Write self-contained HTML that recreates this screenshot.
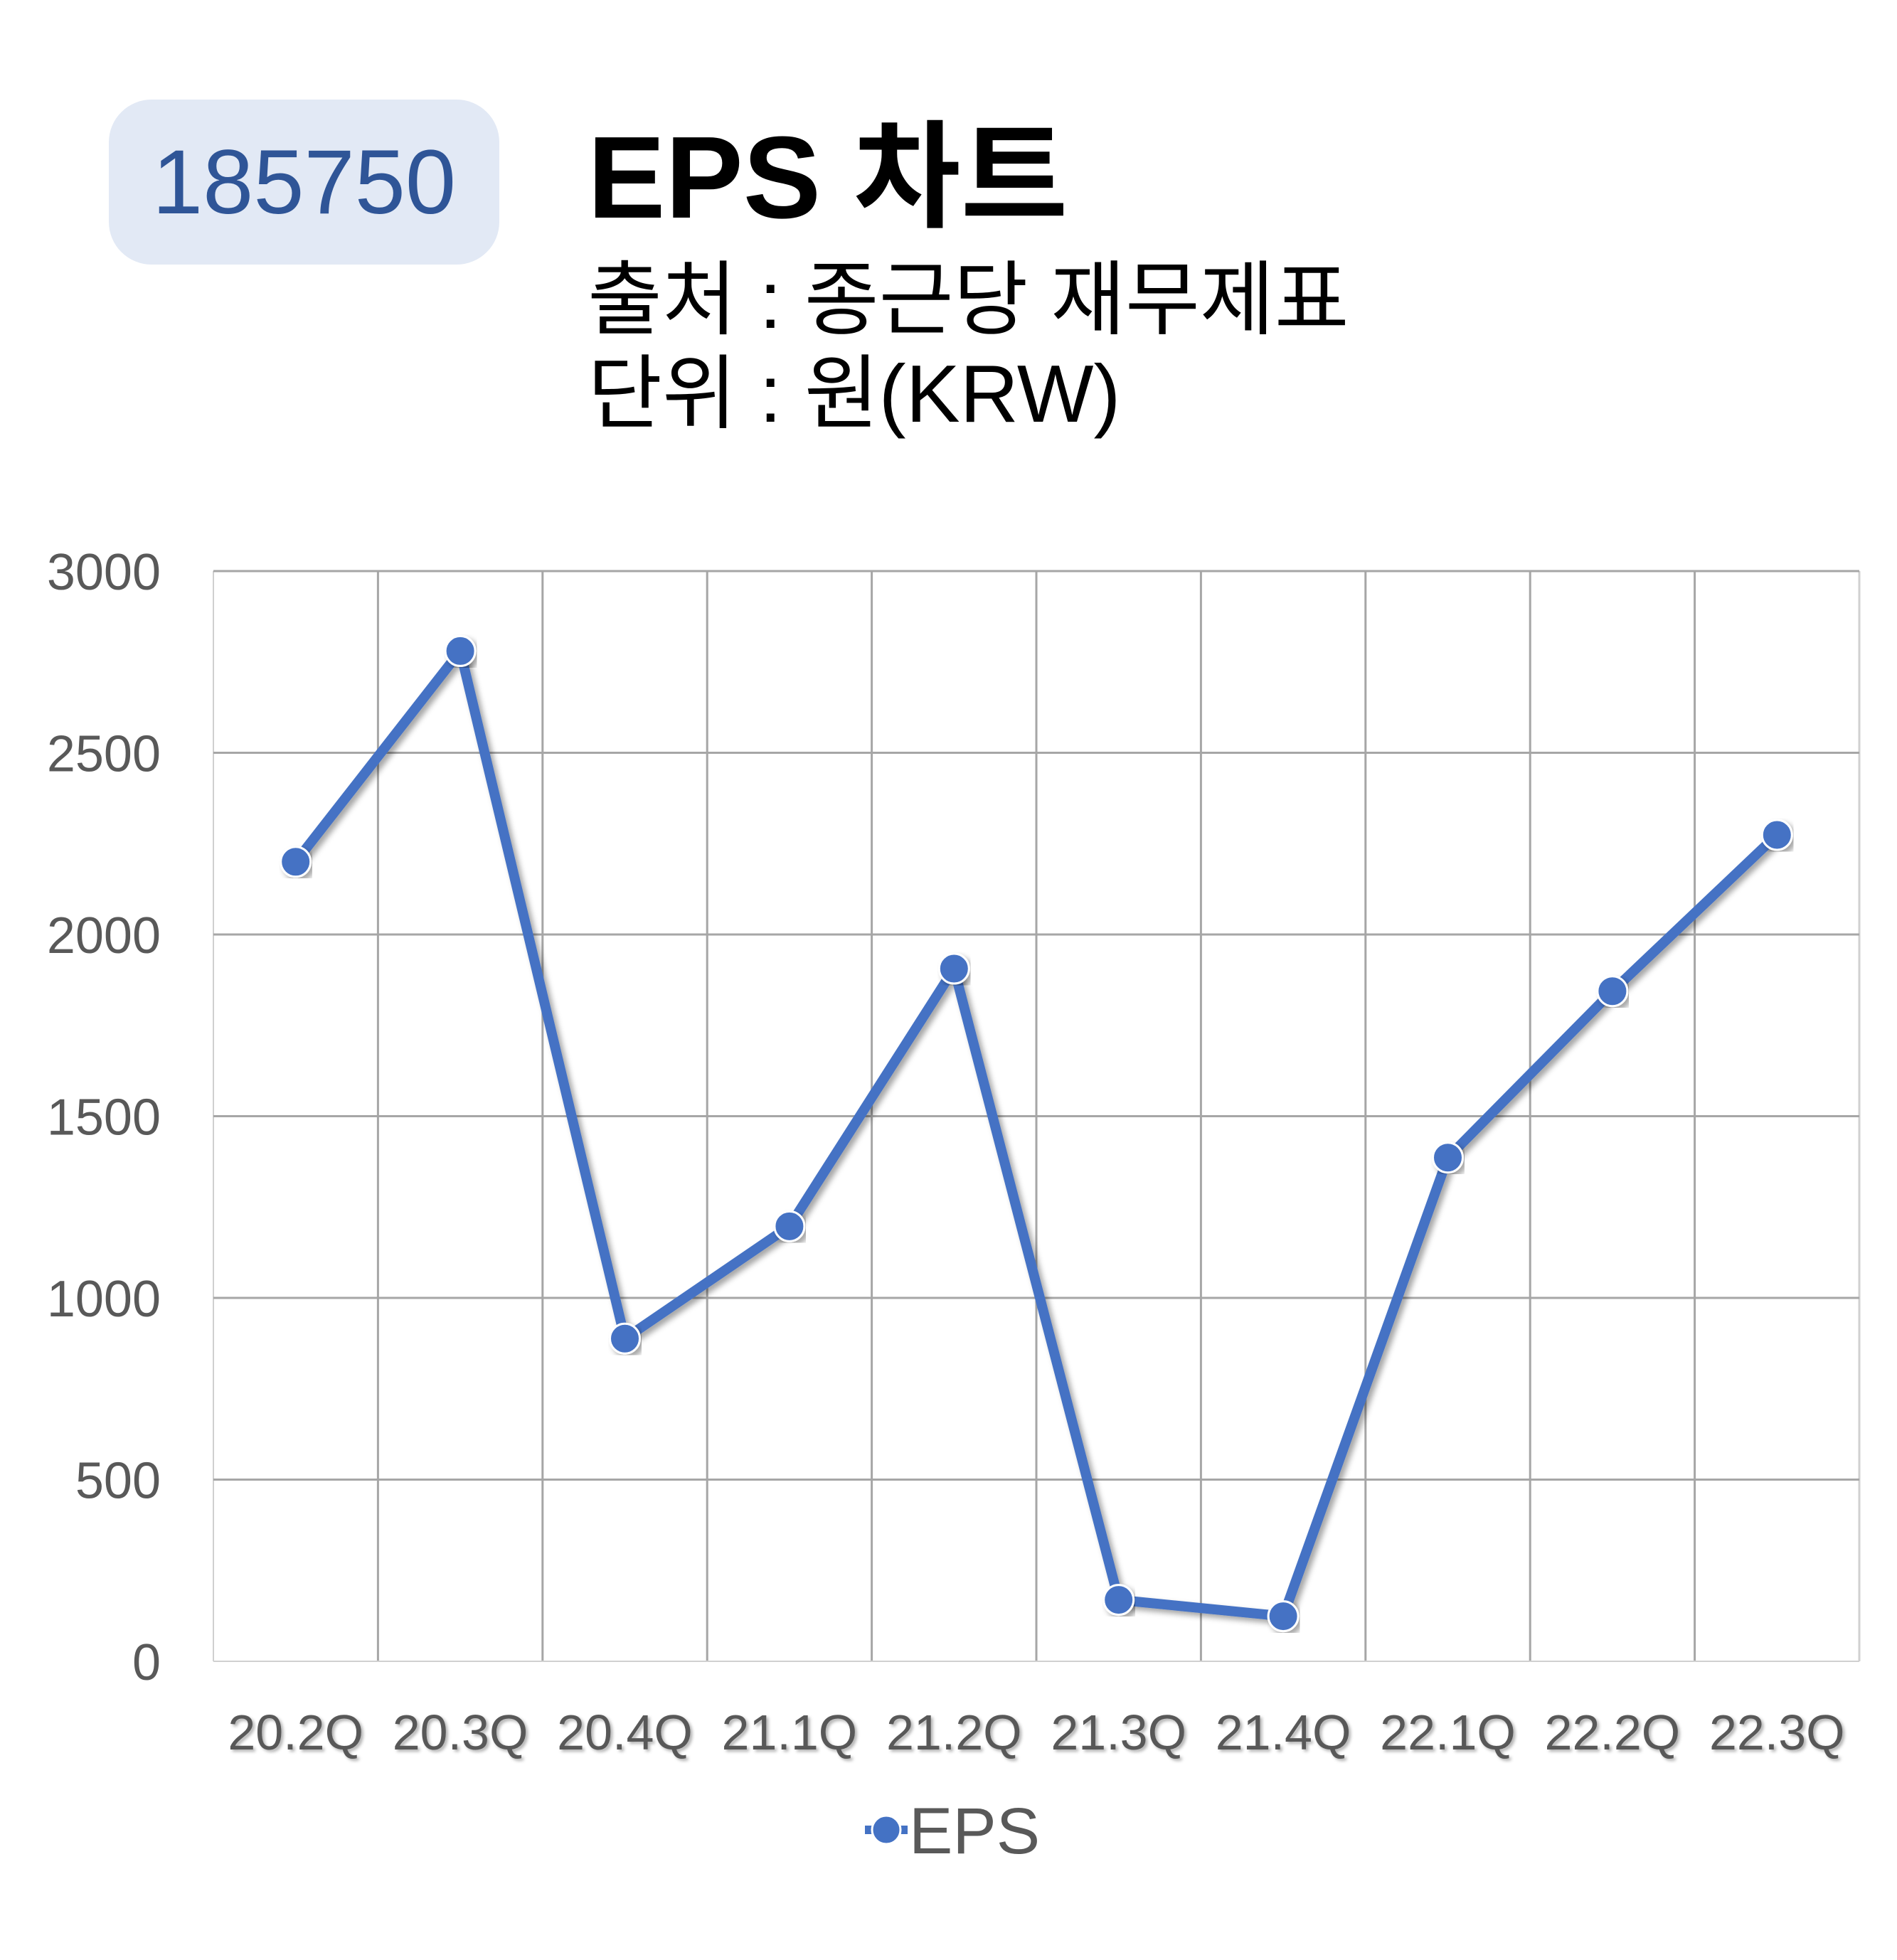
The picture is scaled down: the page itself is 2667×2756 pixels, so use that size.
<!DOCTYPE html>
<html><head><meta charset="utf-8">
<style>
html,body{margin:0;padding:0;background:#fff;}
body{width:2667px;height:2756px;position:relative;overflow:hidden;font-family:"Liberation Sans","Noto Sans CJK KR",sans-serif;}
.badge{position:absolute;left:153px;top:140px;width:549px;height:232px;background:#e2e9f5;border-radius:60px;display:flex;align-items:center;justify-content:center;color:#2f5597;font-size:128px;}
.title{position:absolute;left:826px;top:168px;font-size:164px;font-weight:bold;color:#000;line-height:1;font-family:"Liberation Sans","Noto Sans CJK KR",sans-serif;}
.sub{position:absolute;left:826px;font-size:114px;color:#000;line-height:1;font-family:"Liberation Sans","Noto Sans CJK KR",sans-serif;}
</style></head>
<body>
<div class="badge">185750</div>
<div class="title">EPS 차트</div>
<div class="sub" style="top:366px">출처 : 종근당 재무제표</div>
<div class="sub" style="top:498px">단위 : 원(KRW)</div>
<svg id="chart" width="2667" height="2756" style="position:absolute;left:0;top:0">
<defs><filter id="sh" x="-5%" y="-5%" width="110%" height="110%"><feDropShadow dx="5" dy="5" stdDeviation="4" flood-color="#000" flood-opacity="0.35"/></filter>
<filter id="tsh"><feDropShadow dx="3" dy="3" stdDeviation="2" flood-color="#000" flood-opacity="0.3"/></filter></defs>
</svg>
<script>
const categories=["20.2Q","20.3Q","20.4Q","21.1Q","21.2Q","21.3Q","21.4Q","22.1Q","22.2Q","22.3Q"];
const epsValues=[2200,2780,888,1197,1906,169,124,1386,1844,2274];
const yTicks=[0,500,1000,1500,2000,2500,3000];
const yMax=3000;
const L=300,R=2614,T=803,B=2336;
const svg=document.getElementById('chart');
const NS='http://www.w3.org/2000/svg';
const colW=(R-L)/categories.length;
function xPos(i){return L+colW*(i+0.5);}
function yPos(v){return B-(v/yMax)*(B-T);}
function mk(tag,attrs){const e=document.createElementNS(NS,tag);for(const k in attrs)e.setAttribute(k,attrs[k]);svg.appendChild(e);return e;}
for(let i=0;i<=categories.length;i++){
  const x=L+colW*i;
  const g=mk('line',{x1:x,x2:x,y1:T,y2:B,stroke:i===0||i===categories.length?'#d0d0d0':'#a6a6a6','stroke-width':i===0?2:3});
  
  
}
yTicks.forEach(v=>{
  const y=yPos(v);
  const g=mk('line',{x1:L,x2:R,y1:y,y2:y,stroke:v===0?'#d0d0d0':'#a6a6a6','stroke-width':v===0?2:3});
  
  
  const t=mk('text',{x:226,y:y+26,'text-anchor':'end','font-size':72,fill:'#595959','font-family':'Liberation Sans, sans-serif'});
  t.textContent=v;
  
  
});
categories.forEach((c,i)=>{
  const t=mk('text',{x:xPos(i),y:2460,'text-anchor':'middle','font-size':70,fill:'#595959','font-family':'Liberation Sans, sans-serif',filter:'url(#tsh)'});
  t.textContent=c;
  
  
});
const pts=epsValues.map((v,i)=>xPos(i)+','+yPos(v)).join(' ');
const line=mk('polyline',{points:pts,fill:'none',stroke:'#4472c4','stroke-width':14,'stroke-linejoin':'round',filter:'url(#sh)'});


epsValues.forEach((v,i)=>{
  const c=mk('circle',{cx:xPos(i),cy:yPos(v),r:21,fill:'#4472c4',stroke:'#fff','stroke-width':3,filter:'url(#sh)'});
  
  
});
const lg=mk('line',{x1:1216,x2:1276,y1:2573,y2:2573,stroke:'#4472c4','stroke-width':12});


const lc=mk('circle',{cx:1246,cy:2573,r:20,fill:'#4472c4',stroke:'#fff','stroke-width':3});


const lt=mk('text',{x:1278,y:2606,'font-size':92,fill:'#595959','font-family':'Liberation Sans, sans-serif'});
lt.textContent='EPS';


</script>
</body></html>
